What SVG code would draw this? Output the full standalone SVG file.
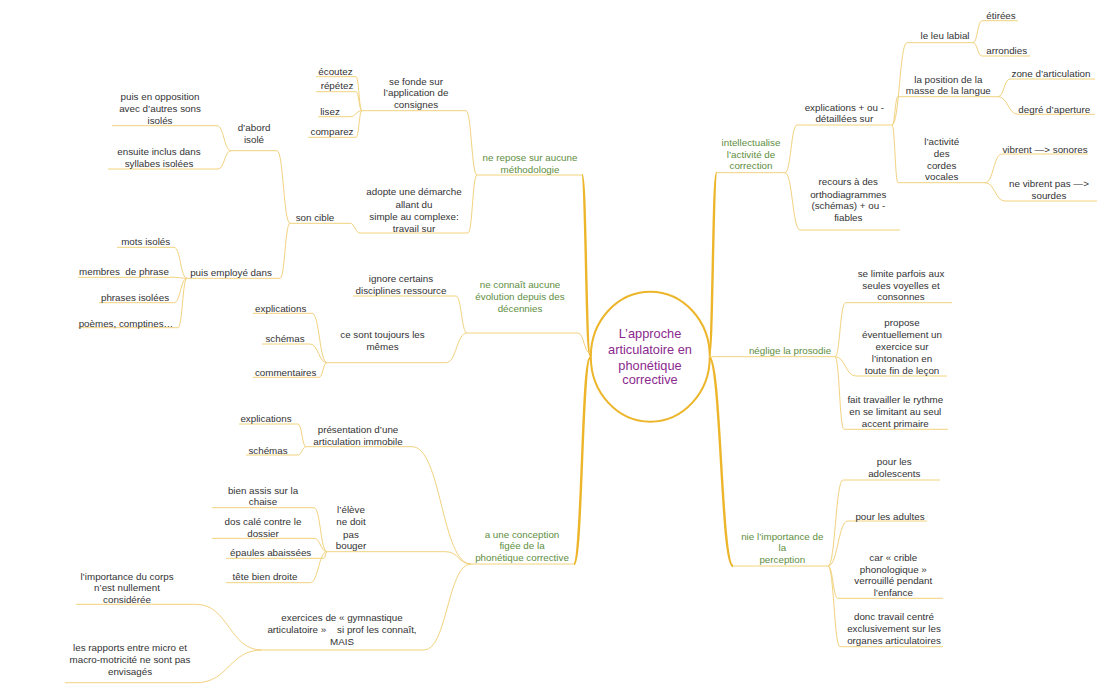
<svg xmlns="http://www.w3.org/2000/svg" width="1106" height="700" viewBox="0 0 1106 700">
<defs>
<style>
.t{font-family:"Liberation Sans",Arial,sans-serif;font-size:9.8px;fill:#333;text-anchor:middle;white-space:pre}
.g{fill:#5e8e3e}
.c{font-size:12.8px;fill:#8a2a8e}
.ul{stroke:#f2d27f;stroke-width:1;fill:none}
.conn path{stroke:#f2d27f;stroke-width:1;fill:none}
.trunk path{stroke:#ecb52a;stroke-width:2.4;fill:none}
</style>
</defs>
<rect width="1106" height="700" fill="#ffffff"/>

<g id="connectors">
<g class="trunk">
<path d="M590,355 C586,355 586,175 582,175"/>
<path d="M590,358 C582,358 582,564 574,564"/>
<path d="M709,356 C712.8,356 712.8,172.7 716.7,172.7"/>
<path d="M709,357 C721,357 721,566 733,566"/>
</g>
<g class="conn">
<path d="M590,353 C584,353 584,333 578,333"/>
<path d="M477,175 C471.5,175 471.5,110.7 466,110.7"/>
<path d="M477,175 C472.5,175 472.5,233 468,233"/>
<path d="M362,110.7 C359,110.7 359,76.7 356,76.7"/>
<path d="M362,110.7 C359,110.7 359,91.7 356,91.7"/>
<path d="M362,110.7 C356,110.7 356,116.7 350,116.7"/>
<path d="M362,110.7 C359,110.7 359,137.3 356,137.3"/>
<path d="M360,233 C355,233 355,223.3 350,223.3"/>
<path d="M290,223.3 C283.5,223.3 283.5,150.7 277,150.7"/>
<path d="M290,223.3 C285,223.3 285,278.3 280,278.3"/>
<path d="M231,150.7 C224,150.7 224,125.7 217,125.7"/>
<path d="M231,150.7 C224.5,150.7 224.5,169 218,169"/>
<path d="M187,278.3 C180.5,278.3 180.5,247.3 174,247.3"/>
<path d="M187,278.3 C180.5,278.3 180.5,277.3 174,277.3"/>
<path d="M187,278.3 C180.5,278.3 180.5,302.7 174,302.7"/>
<path d="M187,278.3 C182.5,278.3 182.5,327.7 178,327.7"/>
<path d="M467,333 C461.5,333 461.5,296 456,296"/>
<path d="M467,333 C456.5,333 456.5,362.7 446,362.7"/>
<path d="M327,362.7 C319.5,362.7 319.5,313.3 312,313.3"/>
<path d="M327,362.7 C318.5,362.7 318.5,344 310,344"/>
<path d="M327,362.7 C323,362.7 323,377.3 319,377.3"/>
<path d="M471,564 C441.5,564 441.5,446.7 412,446.7"/>
<path d="M471,564 C458.5,564 458.5,551.7 446,551.7"/>
<path d="M471,564 C447.5,564 447.5,650 424,650"/>
<path d="M327,551.7 C320.5,551.7 320.5,507.7 314,507.7"/>
<path d="M327,551.7 C320.5,551.7 320.5,538.3 314,538.3"/>
<path d="M327,551.7 C325.5,551.7 325.5,558.3 324,558.3"/>
<path d="M327,551.7 C318.5,551.7 318.5,582.7 310,582.7"/>
<path d="M306,446.7 C302,446.7 302,424 298,424"/>
<path d="M306,446.7 C302,446.7 302,455 298,455"/>
<path d="M262,650 C229,650 229,604.3 196,604.3"/>
<path d="M262,650 C229,650 229,682.7 196,682.7"/>
<path d="M785,172.7 C791,172.7 791,125 797,125"/>
<path d="M785,172.7 C792.5,172.7 792.5,230 800,230"/>
<path d="M892,125 C899.5,125 899.5,42.7 907,42.7"/>
<path d="M892,125 C895,125 895,96.7 898,96.7"/>
<path d="M892,125 C895,125 895,182.7 898,182.7"/>
<path d="M973,42.7 C977.5,42.7 977.5,20.7 982,20.7"/>
<path d="M973,42.7 C977.5,42.7 977.5,56 982,56"/>
<path d="M998,96.7 C1004,96.7 1004,79 1010,79"/>
<path d="M998,96.7 C1008,96.7 1008,114.3 1018,114.3"/>
<path d="M985,182.7 C993.5,182.7 993.5,154 1002,154"/>
<path d="M985,182.7 C995,182.7 995,201 1005,201"/>
<path d="M835,356.7 C840,356.7 840,302.7 845.5,302.7"/>
<path d="M835,356.7 C845.5,356.7 845.5,376 856,376"/>
<path d="M835,356.7 C839.5,356.7 839.5,429.3 844,429.3"/>
<path d="M828,566 C835.5,566 835.5,480 843,480"/>
<path d="M828,566 C838,566 838,521 848,521"/>
<path d="M828,566 C833,566 833,598.3 838,598.3"/>
<path d="M828,566 C834,566 834,646.7 840,646.7"/>
</g>
</g>

<g id="center">
<ellipse cx="650.3" cy="356.7" rx="59.5" ry="65" fill="#ffffff" stroke="#ecb52a" stroke-width="2"/>
<text class="t c"><tspan x="650" y="338">L’approche</tspan><tspan x="650" y="354">articulatoire en</tspan><tspan x="650" y="369.5">phonétique</tspan><tspan x="650" y="384">corrective</tspan></text>
</g>

<g id="n-methodo">
<line class="ul" x1="477" y1="175" x2="582" y2="175"/>
<text class="t g"><tspan x="530" y="160.8">ne repose sur aucune</tspan><tspan x="530" y="172.5">méthodologie</tspan></text>
</g>
<g id="n-consignes">
<line class="ul" x1="362" y1="110.7" x2="466" y2="110.7"/>
<text class="t"><tspan x="416" y="84.5">se fonde sur</tspan><tspan x="416" y="96.2">l’application de</tspan><tspan x="416" y="107.8">consignes</tspan></text>
</g>
<g id="n-ecoutez"><line class="ul" x1="316" y1="76.7" x2="356" y2="76.7"/><text class="t" x="335.5" y="75.2">écoutez</text></g>
<g id="n-repetez"><line class="ul" x1="316" y1="91.7" x2="356" y2="91.7"/><text class="t" x="337" y="89.2">répétez</text></g>
<g id="n-lisez"><line class="ul" x1="318" y1="116.7" x2="350" y2="116.7"/><text class="t" x="330" y="114.5">lisez</text></g>
<g id="n-comparez"><line class="ul" x1="308" y1="137.3" x2="356" y2="137.3"/><text class="t" x="332" y="135.2">comparez</text></g>
<g id="n-demarche">
<line class="ul" x1="360" y1="233" x2="468" y2="233"/>
<text class="t"><tspan x="414" y="195.2">adopte une démarche</tspan><tspan x="414" y="207.8">allant du</tspan><tspan x="414" y="220.2">simple au complexe:</tspan><tspan x="414" y="231.8">travail sur</tspan></text>
</g>
<g id="n-soncible"><line class="ul" x1="290" y1="223.3" x2="350" y2="223.3"/><text class="t" x="315" y="221.2">son cible</text></g>
<g id="n-dabord">
<line class="ul" x1="231" y1="150.7" x2="277" y2="150.7"/>
<text class="t"><tspan x="254" y="131.2">d’abord</tspan><tspan x="254" y="142.8">isolé</tspan></text>
</g>
<g id="n-opposition">
<line class="ul" x1="112" y1="125.7" x2="217" y2="125.7"/>
<text class="t"><tspan x="160" y="100.2">puis en opposition</tspan><tspan x="160" y="111.8">avec d’autres sons</tspan><tspan x="160" y="123.5">isolés</tspan></text>
</g>
<g id="n-ensuite">
<line class="ul" x1="108" y1="169" x2="218" y2="169"/>
<text class="t"><tspan x="159" y="155.2">ensuite inclus dans</tspan><tspan x="159" y="166.8">syllabes isolées</tspan></text>
</g>
<g id="n-employe"><line class="ul" x1="187" y1="278.3" x2="280" y2="278.3"/><text class="t" x="231" y="276.2">puis employé dans</text></g>
<g id="n-mots"><line class="ul" x1="117" y1="247.3" x2="174" y2="247.3"/><text class="t" x="145.7" y="245.2">mots isolés</text></g>
<g id="n-membres"><line class="ul" x1="78" y1="277.3" x2="174" y2="277.3"/><text class="t" x="124" y="275.2">membres  de phrase</text></g>
<g id="n-phrases"><line class="ul" x1="99" y1="302.7" x2="174" y2="302.7"/><text class="t" x="135" y="300.8">phrases isolées</text></g>
<g id="n-poemes"><line class="ul" x1="78" y1="327.7" x2="178" y2="327.7"/><text class="t" x="126" y="326.8">poèmes, comptines…</text></g>

<g id="n-evolution">
<line class="ul" x1="467" y1="333" x2="578" y2="333"/>
<text class="t g"><tspan x="520" y="287.5">ne connaît aucune</tspan><tspan x="520" y="299.5">évolution depuis des</tspan><tspan x="520" y="311.5">décennies</tspan></text>
</g>
<g id="n-ignore">
<line class="ul" x1="353" y1="296" x2="456" y2="296"/>
<text class="t"><tspan x="401" y="281.8">ignore certains</tspan><tspan x="401" y="293.5">disciplines ressource</tspan></text>
</g>
<g id="n-memes">
<line class="ul" x1="327" y1="362.7" x2="446" y2="362.7"/>
<text class="t"><tspan x="382.5" y="337.5">ce sont toujours les</tspan><tspan x="382.5" y="349.5">mêmes</tspan></text>
</g>
<g id="n-explic1"><line class="ul" x1="253" y1="313.3" x2="312" y2="313.3"/><text class="t" x="280.7" y="311.8">explications</text></g>
<g id="n-schemas1"><line class="ul" x1="262" y1="344" x2="310" y2="344"/><text class="t" x="285" y="341.8">schémas</text></g>
<g id="n-comment"><line class="ul" x1="253" y1="377.3" x2="319" y2="377.3"/><text class="t" x="285.7" y="376.2">commentaires</text></g>

<g id="n-conception">
<line class="ul" x1="471" y1="564" x2="574" y2="564"/>
<text class="t g"><tspan x="522" y="537.8">a une conception</tspan><tspan x="522" y="549.2">figée de la</tspan><tspan x="522" y="560.8">phonétique corrective</tspan></text>
</g>
<g id="n-presentation">
<line class="ul" x1="306" y1="446.7" x2="412" y2="446.7"/>
<text class="t"><tspan x="358" y="432.8">présentation d’une</tspan><tspan x="358" y="444.5">articulation immobile</tspan></text>
</g>
<g id="n-explic2"><line class="ul" x1="239" y1="424" x2="298" y2="424"/><text class="t" x="266" y="421.8">explications</text></g>
<g id="n-schemas2"><line class="ul" x1="246" y1="455" x2="298" y2="455"/><text class="t" x="268" y="453.5">schémas</text></g>
<g id="n-eleve">
<line class="ul" x1="327" y1="551.7" x2="446" y2="551.7"/>
<text class="t"><tspan x="351" y="512.5">l’élève</tspan><tspan x="351" y="525.2">ne doit</tspan><tspan x="351" y="537.5">pas</tspan><tspan x="351" y="549.2">bouger</tspan></text>
</g>
<g id="n-assis">
<line class="ul" x1="212" y1="507.7" x2="314" y2="507.7"/>
<text class="t"><tspan x="263" y="493.5">bien assis sur la</tspan><tspan x="263" y="505.2">chaise</tspan></text>
</g>
<g id="n-dos">
<line class="ul" x1="212" y1="538.3" x2="314" y2="538.3"/>
<text class="t"><tspan x="263" y="525.2">dos calé contre le</tspan><tspan x="263" y="536.8">dossier</tspan></text>
</g>
<g id="n-epaules"><line class="ul" x1="226" y1="558.3" x2="324" y2="558.3"/><text class="t" x="270.7" y="556.2">épaules abaissées</text></g>
<g id="n-tete"><line class="ul" x1="226" y1="582.7" x2="310" y2="582.7"/><text class="t" x="265" y="580.2">tête bien droite</text></g>
<g id="n-gym">
<line class="ul" x1="262" y1="650" x2="424" y2="650"/>
<text class="t"><tspan x="342" y="620.8">exercices de « gymnastique</tspan><tspan x="342" y="632.8">articulatoire »    si prof les connaît,</tspan><tspan x="342" y="644.5">MAIS</tspan></text>
</g>
<g id="n-corps">
<line class="ul" x1="76" y1="604.3" x2="196" y2="604.3"/>
<text class="t"><tspan x="127" y="579.5">l’importance du corps</tspan><tspan x="127" y="590.8">n’est nullement</tspan><tspan x="127" y="602.5">considérée</tspan></text>
</g>
<g id="n-rapports">
<line class="ul" x1="65" y1="682.7" x2="196" y2="682.7"/>
<text class="t"><tspan x="130" y="650.8">les rapports entre micro et</tspan><tspan x="130" y="662.8">macro-motricité ne sont pas</tspan><tspan x="130" y="674.5">envisagés</tspan></text>
</g>

<g id="n-intellect">
<line class="ul" x1="716.7" y1="172.7" x2="785" y2="172.7"/>
<text class="t g"><tspan x="751" y="146.2">intellectualise</tspan><tspan x="751" y="157.5">l’activité de</tspan><tspan x="751" y="169.2">correction</tspan></text>
</g>
<g id="n-explicplus">
<line class="ul" x1="797" y1="125" x2="892" y2="125"/>
<text class="t"><tspan x="844.3" y="110.8">explications + ou -</tspan><tspan x="844.3" y="121.8">détaillées sur</tspan></text>
</g>
<g id="n-labial"><line class="ul" x1="907" y1="42.7" x2="973" y2="42.7"/><text class="t" x="945" y="38.5">le leu labial</text></g>
<g id="n-etirees"><line class="ul" x1="982" y1="20.7" x2="1018" y2="20.7"/><text class="t" x="1001" y="18.8">étirées</text></g>
<g id="n-arrondies"><line class="ul" x1="982" y1="56" x2="1030" y2="56"/><text class="t" x="1006.7" y="54.2">arrondies</text></g>
<g id="n-position">
<line class="ul" x1="898" y1="96.7" x2="998" y2="96.7"/>
<text class="t"><tspan x="948.3" y="82.5">la position de la</tspan><tspan x="948.3" y="93.5">masse de la langue</tspan></text>
</g>
<g id="n-zone"><line class="ul" x1="1010" y1="79" x2="1095" y2="79"/><text class="t" x="1051" y="76.8">zone d’articulation</text></g>
<g id="n-degre"><line class="ul" x1="1018" y1="114.3" x2="1095" y2="114.3"/><text class="t" x="1054.3" y="112.5">degré d’aperture</text></g>
<g id="n-cordes">
<line class="ul" x1="898" y1="182.7" x2="985" y2="182.7"/>
<text class="t"><tspan x="941.7" y="144.5">l’activité</tspan><tspan x="941.7" y="156.8">des</tspan><tspan x="941.7" y="168.5">cordes</tspan><tspan x="941.7" y="180.2">vocales</tspan></text>
</g>
<g id="n-vibrent"><line class="ul" x1="1002" y1="154" x2="1088" y2="154"/><text class="t" x="1045" y="152.5">vibrent —&gt; sonores</text></g>
<g id="n-nevibrent">
<line class="ul" x1="1005" y1="201" x2="1097" y2="201"/>
<text class="t"><tspan x="1049" y="186.8">ne vibrent pas —&gt;</tspan><tspan x="1049" y="198.5">sourdes</tspan></text>
</g>
<g id="n-recours">
<line class="ul" x1="800" y1="230" x2="900" y2="230"/>
<text class="t"><tspan x="848.3" y="185.2">recours à des</tspan><tspan x="848.3" y="197.5">orthodiagrammes</tspan><tspan x="848.3" y="209.2">(schémas) + ou -</tspan><tspan x="848.3" y="220.8">fiables</tspan></text>
</g>

<g id="n-prosodie">
<line class="ul" x1="709" y1="356.7" x2="835" y2="356.7"/>
<text class="t g" x="790" y="354.2">néglige la prosodie</text>
</g>
<g id="n-limite">
<line class="ul" x1="845.5" y1="302.7" x2="952" y2="302.7"/>
<text class="t"><tspan x="901" y="276.8">se limite parfois aux</tspan><tspan x="901" y="288.5">seules voyelles et</tspan><tspan x="901" y="300.2">consonnes</tspan></text>
</g>
<g id="n-propose">
<line class="ul" x1="856" y1="376" x2="947" y2="376"/>
<text class="t"><tspan x="902" y="325.8">propose</tspan><tspan x="902" y="337.8">éventuellement un</tspan><tspan x="902" y="349.5">exercice sur</tspan><tspan x="902" y="361.8">l’intonation en</tspan><tspan x="902" y="373.5">toute fin de leçon</tspan></text>
</g>
<g id="n-rythme">
<line class="ul" x1="844" y1="429.3" x2="948" y2="429.3"/>
<text class="t"><tspan x="895.3" y="402.8">fait travailler le rythme</tspan><tspan x="895.3" y="415.2">en se limitant au seul</tspan><tspan x="895.3" y="426.8">accent primaire</tspan></text>
</g>

<g id="n-perception">
<line class="ul" x1="733" y1="566" x2="828" y2="566"/>
<text class="t g"><tspan x="782.3" y="539.5">nie l’importance de</tspan><tspan x="782.3" y="551.2">la</tspan><tspan x="782.3" y="562.8">perception</tspan></text>
</g>
<g id="n-ado">
<line class="ul" x1="843" y1="480" x2="940" y2="480"/>
<text class="t"><tspan x="894.3" y="465.2">pour les</tspan><tspan x="894.3" y="476.8">adolescents</tspan></text>
</g>
<g id="n-adultes"><line class="ul" x1="848" y1="521" x2="927" y2="521"/><text class="t" x="890" y="519.5">pour les adultes</text></g>
<g id="n-crible">
<line class="ul" x1="838" y1="598.3" x2="943" y2="598.3"/>
<text class="t"><tspan x="893.3" y="560.8">car « crible</tspan><tspan x="893.3" y="572.5">phonologique »</tspan><tspan x="893.3" y="584.2">verrouillé pendant</tspan><tspan x="893.3" y="596.2">l’enfance</tspan></text>
</g>
<g id="n-organes">
<line class="ul" x1="840" y1="646.7" x2="943" y2="646.7"/>
<text class="t"><tspan x="894" y="619.5">donc travail centré</tspan><tspan x="894" y="631.8">exclusivement sur les</tspan><tspan x="894" y="644.2">organes articulatoires</tspan></text>
</g>
</svg>
